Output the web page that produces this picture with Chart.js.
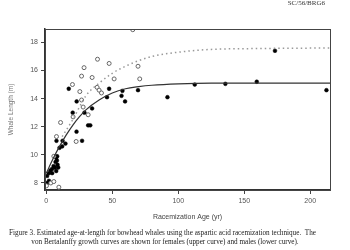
<!DOCTYPE html>
<html>
<head>
<meta charset="utf-8">
<script src="https://cdn.jsdelivr.net/npm/chart.js@4"></script>
<style>
  html, body { margin: 0; padding: 0; background: #fff; }
  #wrap { width: 350px; height: 250px; }
</style>
</head>
<body>
<div id="wrap"><canvas id="vbChart" width="350" height="250"></canvas></div>
<script>
// Dados (idade em anos, comprimento em metros)
const maleAges = [0.6, 0.7, 2, 1.9, 3.2, 4.4, 4.4, 5.5, 6.5, 7, 7.5, 8, 8.5, 9, 7.5, 8.2, 7.7, 10, 12, 12.3, 14.5,
                  17, 20, 23, 22.9, 27.1, 28.9, 31.7, 33.3, 34.7, 46, 47.6, 57, 57.7, 59.7, 69.5, 91.8, 112.5, 135.7, 159.5, 173.3, 212.3];
const maleLengths = [8.5, 8.0, 8.15, 8.7, 8.9, 8.7, 9.0, 9.2, 9.1, 9.5, 9.8, 9.6, 9.3, 9.1, 8.85, 9.9, 11.0, 10.5, 10.6, 11.0, 10.8,
                     14.7, 13.0, 13.8, 11.65, 11.0, 13.0, 12.1, 12.1, 13.3, 14.1, 14.7, 14.2, 14.55, 13.8, 14.6, 14.1, 15.0, 15.05, 15.2, 17.4, 14.6];

const femaleAges = [0.1, 3.4, 5.7, 9.5, 5.7, 7.7, 10.8, 19.8, 20.3, 22.6, 25.4, 26.7, 26.7, 27.9, 28.6, 31.7,
                    34.7, 38.5, 38.8, 40, 41.8, 47.6, 51.4, 65.5, 69.5, 70.8];
const femaleLengths = [7.8, 8.0, 8.1, 7.7, 9.9, 11.3, 12.3, 15.0, 12.7, 10.95, 14.5, 15.6, 13.9, 13.4, 16.2, 12.85,
                       15.5, 14.8, 16.8, 14.6, 14.4, 16.5, 15.4, 18.9, 16.3, 15.4];

// Curvas de von Bertalanffy
const maleCurveAges = [0, 5, 10, 15, 20, 25, 30, 40, 50, 60, 70, 80, 100, 125, 150, 215];
const maleCurveLengths = [8.7, 9.7, 10.6, 11.4, 12.1, 12.7, 13.2, 13.9, 14.4, 14.7, 14.85, 14.95, 15.05, 15.1, 15.1, 15.1];
const femaleCurveAges = [12, 20, 30, 40, 50, 60, 70, 80, 100, 125, 150, 215];
const femaleCurveLengths = [11.3, 12.5, 14.2, 15.1, 15.8, 16.3, 16.7, 17.0, 17.3, 17.5, 17.55, 17.6];

const xTicks = [0, 50, 100, 150, 200];
const yTicks = [8, 10, 12, 14, 16, 18];

const captionLines = [
    'Figure 3. Estimated age-at-length for bowhead whales using the aspartic acid racemization technique.  The',
    'von Bertalanffy growth curves are shown for females (upper curve) and males (lower curve).'
];

function pairs(xs, ys) {
    return xs.map((x, i) => ({ x: x, y: ys[i] }));
}

// Moldura do gráfico + legenda de texto da página
const pagePlugin = {
    id: 'pagePlugin',
    afterDraw(chart) {
        const ctx = chart.ctx;
        const a = chart.chartArea;
        ctx.save();
        ctx.strokeStyle = '#444';
        ctx.lineWidth = 1;
        ctx.strokeRect(a.left + 0.5, a.top + 0.5, a.right - a.left, a.bottom - a.top);

        ctx.fillStyle = '#333';
        ctx.font = '7px "Liberation Serif", serif';
        ctx.textAlign = 'right';
        ctx.textBaseline = 'alphabetic';
        ctx.fillText('SC/56/BRG6', 325, 5);

        ctx.fillStyle = '#222';
        ctx.font = '7.2px "Liberation Serif", serif';
        ctx.textAlign = 'left';
        ctx.fillText(captionLines[0], 9, 235, 314);
        ctx.textAlign = 'center';
        ctx.fillText(captionLines[1], 165, 244);
        ctx.restore();
    }
};

new Chart(document.getElementById('vbChart').getContext('2d'), {
    type: 'scatter',
    data: {
        datasets: [
            {
                label: 'Females curve',
                type: 'line',
                data: pairs(femaleCurveAges, femaleCurveLengths),
                borderColor: '#999',
                borderWidth: 1.5,
                borderDash: [1.5, 3],
                pointRadius: 0,
                cubicInterpolationMode: 'monotone',
                fill: false
            },
            {
                label: 'Males curve',
                type: 'line',
                data: pairs(maleCurveAges, maleCurveLengths),
                borderColor: '#333',
                borderWidth: 1.2,
                pointRadius: 0,
                cubicInterpolationMode: 'monotone',
                fill: false
            },
            {
                label: 'Females',
                data: pairs(femaleAges, femaleLengths),
                pointStyle: 'circle',
                pointRadius: 2,
                borderWidth: 1,
                borderColor: '#666',
                backgroundColor: '#fff'
            },
            {
                label: 'Males',
                data: pairs(maleAges, maleLengths),
                pointStyle: 'circle',
                pointRadius: 1.9,
                borderWidth: 0.5,
                borderColor: '#000',
                backgroundColor: '#000'
            }
        ]
    },
    options: {
        responsive: false,
        animation: false,
        layout: { padding: { left: 7, top: 29, right: 20, bottom: 28 } },
        plugins: {
            legend: { display: false },
            tooltip: { enabled: false }
        },
        scales: {
            x: {
                type: 'linear',
                min: -1,
                max: 215,
                afterBuildTicks: (scale) => { scale.ticks = xTicks.map(v => ({ value: v })); },
                afterFit: (scale) => { scale.height = 32; },
                grid: { display: true, drawOnChartArea: false, drawTicks: true, tickLength: 4, color: '#444' },
                border: { display: true, color: '#333', width: 1.5 },
                ticks: { color: '#555', font: { family: '"Liberation Sans", Arial, sans-serif', size: 7 }, padding: 3 },
                title: {
                    display: true,
                    text: 'Racemization Age (yr)',
                    color: '#444',
                    font: { family: '"Liberation Sans", Arial, sans-serif', size: 7 },
                    padding: { top: 4, bottom: 1 }
                }
            },
            y: {
                type: 'linear',
                min: 7.5,
                max: 18.95,
                afterBuildTicks: (scale) => { scale.ticks = yTicks.map(v => ({ value: v })); },
                afterFit: (scale) => { scale.width = 38; },
                grid: { display: true, drawOnChartArea: false, drawTicks: true, tickLength: 4, color: '#444' },
                border: { display: true, color: '#333', width: 1.5 },
                ticks: { color: '#555', font: { family: '"Liberation Sans", Arial, sans-serif', size: 7 }, padding: 3 },
                title: {
                    display: true,
                    text: 'Whale Length (m)',
                    color: '#777',
                    font: { family: '"Liberation Sans", Arial, sans-serif', size: 6.5 },
                    padding: { top: 0, bottom: 0 }
                }
            }
        }
    },
    plugins: [pagePlugin]
});
</script>
</body>
</html>
